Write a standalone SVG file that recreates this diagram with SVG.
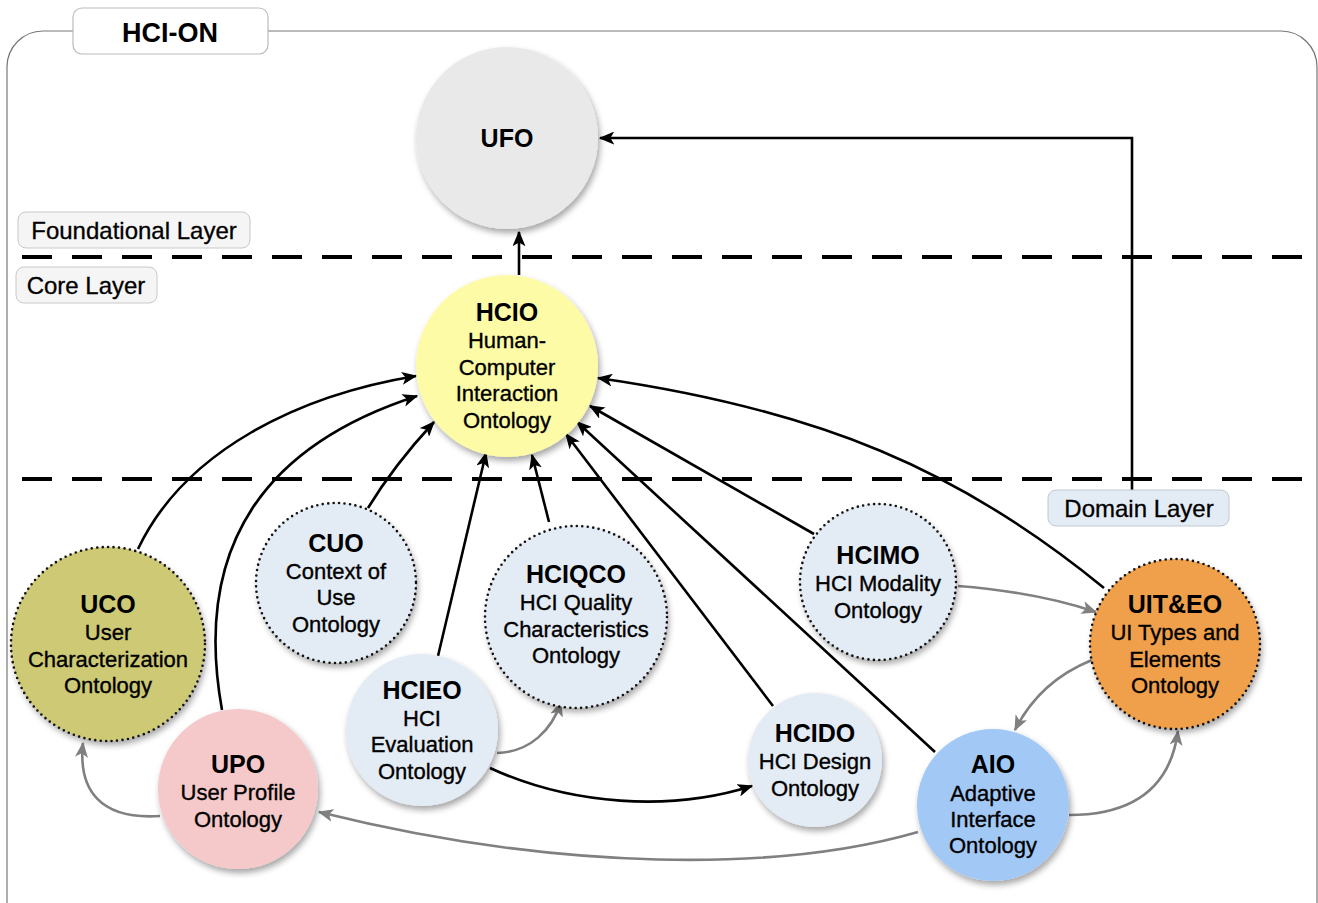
<svg xmlns="http://www.w3.org/2000/svg" width="1318" height="903" viewBox="0 0 1318 903">
<style>
text{font-family:"Liberation Sans",Arial,sans-serif;fill:#000;text-anchor:middle}
.t{font-weight:bold;font-size:25px}
.b{font-size:22px;stroke:#000;stroke-width:0.35}
.lbl{font-size:24px;stroke:#000;stroke-width:0.3}
.node{filter:url(#sh)}
.dot{fill:none;stroke:#111;stroke-width:2.6;stroke-dasharray:0 5.5;stroke-linecap:round}
.k{fill:none;stroke:#000;stroke-width:2.6}
.g{fill:none;stroke:#808080;stroke-width:2.6}
.dash{stroke:#000;stroke-width:4;stroke-dasharray:30 20}
</style>
<defs>
<filter id="sh" x="-20%" y="-20%" width="150%" height="150%">
<feDropShadow dx="2" dy="4" stdDeviation="3" flood-color="#000" flood-opacity="0.35"/>
</filter>
<marker id="ak" viewBox="0 0 12 10" refX="11" refY="5" markerWidth="6" markerHeight="5" orient="auto" markerUnits="strokeWidth">
<path d="M0,0 L12,5 L0,10 L3,5 z" fill="#000"/>
</marker>
<marker id="ag" viewBox="0 0 12 10" refX="11" refY="5" markerWidth="6" markerHeight="5" orient="auto" markerUnits="strokeWidth">
<path d="M0,0 L12,5 L0,10 L3,5 z" fill="#808080"/>
</marker>
</defs>
<rect width="1318" height="903" fill="#fff"/>
<g id="frame">
<rect x="7" y="31" width="1310" height="920" rx="36" fill="none" stroke="#777" stroke-width="1.2"/>
<rect x="73" y="8" width="195" height="46" rx="9" fill="#fff" stroke="#bbb" stroke-width="1.2"/>
<text x="170" y="42" style="font-weight:bold;font-size:27px">HCI-ON</text>
</g>
<g id="layers">
<line class="dash" x1="22" y1="257" x2="1318" y2="257"/>
<line class="dash" x1="22" y1="479" x2="1318" y2="479"/>
<rect x="18" y="212" width="232" height="36" rx="8" fill="#f5f5f5" stroke="#c8c8c8"/>
<text class="lbl" x="134" y="239">Foundational Layer</text>
<rect x="16" y="267" width="141" height="36" rx="8" fill="#f5f5f5" stroke="#c8c8c8"/>
<text class="lbl" x="86" y="294">Core Layer</text>
</g>
<g id="connectors">
<path class="k" d="M519,275 L519,232" marker-end="url(#ak)"/>
<path class="k" d="M1132,490 L1132,138 L600,138" marker-end="url(#ak)"/>
<path class="k" d="M138,549 C185,450 300,395 416,376" marker-end="url(#ak)"/>
<path class="k" d="M222,710 C195,560 250,450 417,396" marker-end="url(#ak)"/>
<path class="k" d="M368,508 C385,480 410,448 434,422" marker-end="url(#ak)"/>
<path class="k" d="M438,656 L486,453" marker-end="url(#ak)"/>
<path class="k" d="M549,522 L532,455" marker-end="url(#ak)"/>
<path class="k" d="M773,706 L566,434" marker-end="url(#ak)"/>
<path class="k" d="M935,752 L577,422" marker-end="url(#ak)"/>
<path class="k" d="M814,534 L590,406" marker-end="url(#ak)"/>
<path class="k" d="M1104,588 C960,470 820,410 598,378" marker-end="url(#ak)"/>
<path class="g" d="M497,753 C530,752 552,730 561,702" marker-end="url(#ag)"/>
<path class="k" d="M490,768 C570,805 670,812 752,786" marker-end="url(#ak)"/>
<path class="g" d="M958,586 C1010,590 1060,600 1096,612" marker-end="url(#ag)"/>
<path class="g" d="M1092,660 C1055,675 1030,700 1015,730" marker-end="url(#ag)"/>
<path class="g" d="M1069,815 C1130,815 1170,790 1178,731" marker-end="url(#ag)"/>
<path class="g" d="M918,832 C780,872 560,872 319,812" marker-end="url(#ag)"/>
<path class="g" d="M160,816 C100,820 78,790 83,743" marker-end="url(#ag)"/>
</g>
<g id="UFO">
<circle class="node" cx="507" cy="138" r="91" fill="#e9e9e9"/>
<text class="t" x="507" y="147">UFO</text>
</g>
<g id="HCIO">
<circle class="node" cx="507" cy="366" r="91" fill="#fdfba6"/>
<text class="t" x="507" y="321">HCIO</text>
<text class="b" x="507" y="348">Human-</text>
<text class="b" x="507" y="375">Computer</text>
<text class="b" x="507" y="401">Interaction</text>
<text class="b" x="507" y="428">Ontology</text>
</g>
<g id="UCO">
<circle class="node" cx="108" cy="644" r="97" fill="#cdc974"/>
<circle class="dot" cx="108" cy="644" r="97"/>
<text class="t" x="108" y="613">UCO</text>
<text class="b" x="108" y="640">User</text>
<text class="b" x="108" y="667">Characterization</text>
<text class="b" x="108" y="693">Ontology</text>
</g>
<g id="CUO">
<circle class="node" cx="336" cy="583" r="80" fill="#e3ebf4"/>
<circle class="dot" cx="336" cy="583" r="80"/>
<text class="t" x="336" y="552">CUO</text>
<text class="b" x="336" y="579">Context of</text>
<text class="b" x="336" y="605">Use</text>
<text class="b" x="336" y="632">Ontology</text>
</g>
<g id="HCIQCO">
<circle class="node" cx="576" cy="617" r="91" fill="#e3ebf4"/>
<circle class="dot" cx="576" cy="617" r="91"/>
<text class="t" x="576" y="583">HCIQCO</text>
<text class="b" x="576" y="610">HCI Quality</text>
<text class="b" x="576" y="637">Characteristics</text>
<text class="b" x="576" y="663">Ontology</text>
</g>
<g id="HCIMO">
<circle class="node" cx="878" cy="582" r="78" fill="#e3ebf4"/>
<circle class="dot" cx="878" cy="582" r="78"/>
<text class="t" x="878" y="564">HCIMO</text>
<text class="b" x="878" y="591">HCI Modality</text>
<text class="b" x="878" y="618">Ontology</text>
</g>
<g id="UITEO">
<circle class="node" cx="1175" cy="644" r="85" fill="#f0a04b"/>
<circle class="dot" cx="1175" cy="644" r="85"/>
<text class="t" x="1175" y="613">UIT&amp;EO</text>
<text class="b" x="1175" y="640">UI Types and</text>
<text class="b" x="1175" y="667">Elements</text>
<text class="b" x="1175" y="693">Ontology</text>
</g>
<g id="UPO">
<circle class="node" cx="238" cy="789" r="80" fill="#f5c9c9"/>
<text class="t" x="238" y="773">UPO</text>
<text class="b" x="238" y="800">User Profile</text>
<text class="b" x="238" y="827">Ontology</text>
</g>
<g id="HCIEO">
<circle class="node" cx="422" cy="730" r="76" fill="#e3ebf4"/>
<text class="t" x="422" y="699">HCIEO</text>
<text class="b" x="422" y="726">HCI</text>
<text class="b" x="422" y="752">Evaluation</text>
<text class="b" x="422" y="779">Ontology</text>
</g>
<g id="HCIDO">
<circle class="node" cx="815" cy="760" r="67" fill="#e3ebf4"/>
<text class="t" x="815" y="742">HCIDO</text>
<text class="b" x="815" y="769">HCI Design</text>
<text class="b" x="815" y="796">Ontology</text>
</g>
<g id="AIO">
<circle class="node" cx="993" cy="805" r="76" fill="#a2c9f6"/>
<text class="t" x="993" y="773">AIO</text>
<text class="b" x="993" y="801">Adaptive</text>
<text class="b" x="993" y="827">Interface</text>
<text class="b" x="993" y="853">Ontology</text>
</g>
<g id="domain">
<rect x="1048" y="490" width="181" height="36" rx="8" fill="#e3ebf4" stroke="#c0c8d0"/>
<text class="lbl" x="1139" y="517">Domain Layer</text>
</g>
</svg>
